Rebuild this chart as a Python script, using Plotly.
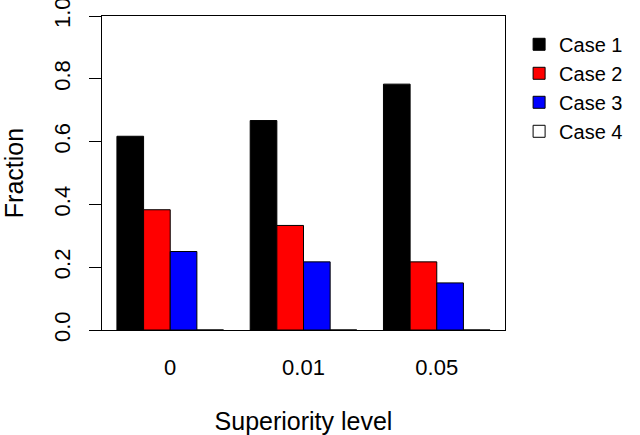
import plotly.graph_objects as go

levels = ["0", "0.01", "0.05"]
cases = ["Case 1", "Case 2", "Case 3", "Case 4"]
case1 = [0.617, 0.667, 0.783]
case2 = [0.383, 0.333, 0.217]
case3 = [0.250, 0.217, 0.150]
case4 = [0.0, 0.0, 0.0]
colors = ["black", "red", "blue", "white"]

font = dict(family="Liberation Sans, Arial, sans-serif", color="black")

fig = go.Figure()
for name, vals, col in zip(cases, [case1, case2, case3, case4], colors):
    fig.add_trace(go.Bar(x=[0, 1, 2], y=vals, name=name,
                         marker=dict(color=col, line=dict(color="black", width=1))))

fig.update_layout(
    width=640, height=435,
    margin=dict(l=102, r=132, t=16, b=105),
    plot_bgcolor="white", paper_bgcolor="white",
    barmode="group", bargap=0.2, bargroupgap=0,
    font=dict(size=22, **font),
    legend=dict(x=1.035, y=0.972, xanchor="left", yanchor="top",
                font=dict(size=20), bgcolor="rgba(0,0,0,0)",
                itemwidth=30, tracegroupgap=0),
    showlegend=True,
)
fig.update_xaxes(
    range=[-0.512, 2.512], tickvals=[0, 1, 2], ticktext=levels,
    showline=True, linecolor="black", linewidth=1, mirror=True,
    ticks="", showgrid=False, zeroline=False, ticklabelstandoff=18,
    automargin=False,
    title=dict(text="Superiority level", font=dict(size=25), standoff=33),
)
fig.update_yaxes(
    range=[0, 1], tickvals=[0, 0.2, 0.4, 0.6, 0.8, 1.0], tickformat=".1f",
    showline=True, linecolor="black", linewidth=1, mirror=True,
    ticks="outside", ticklen=12, tickcolor="black", tickangle=-90,
    showgrid=False, zeroline=False, ticklabelstandoff=10,
    ticklabeloverflow="allow", automargin=False,
    title=dict(text="Fraction", font=dict(size=25), standoff=22),
)

# drop the browser's default body margin so the figure sits at the page corner
fig.write_html("out.html", config={"displayModeBar": False},
               post_script="document.body.style.margin='0';")
